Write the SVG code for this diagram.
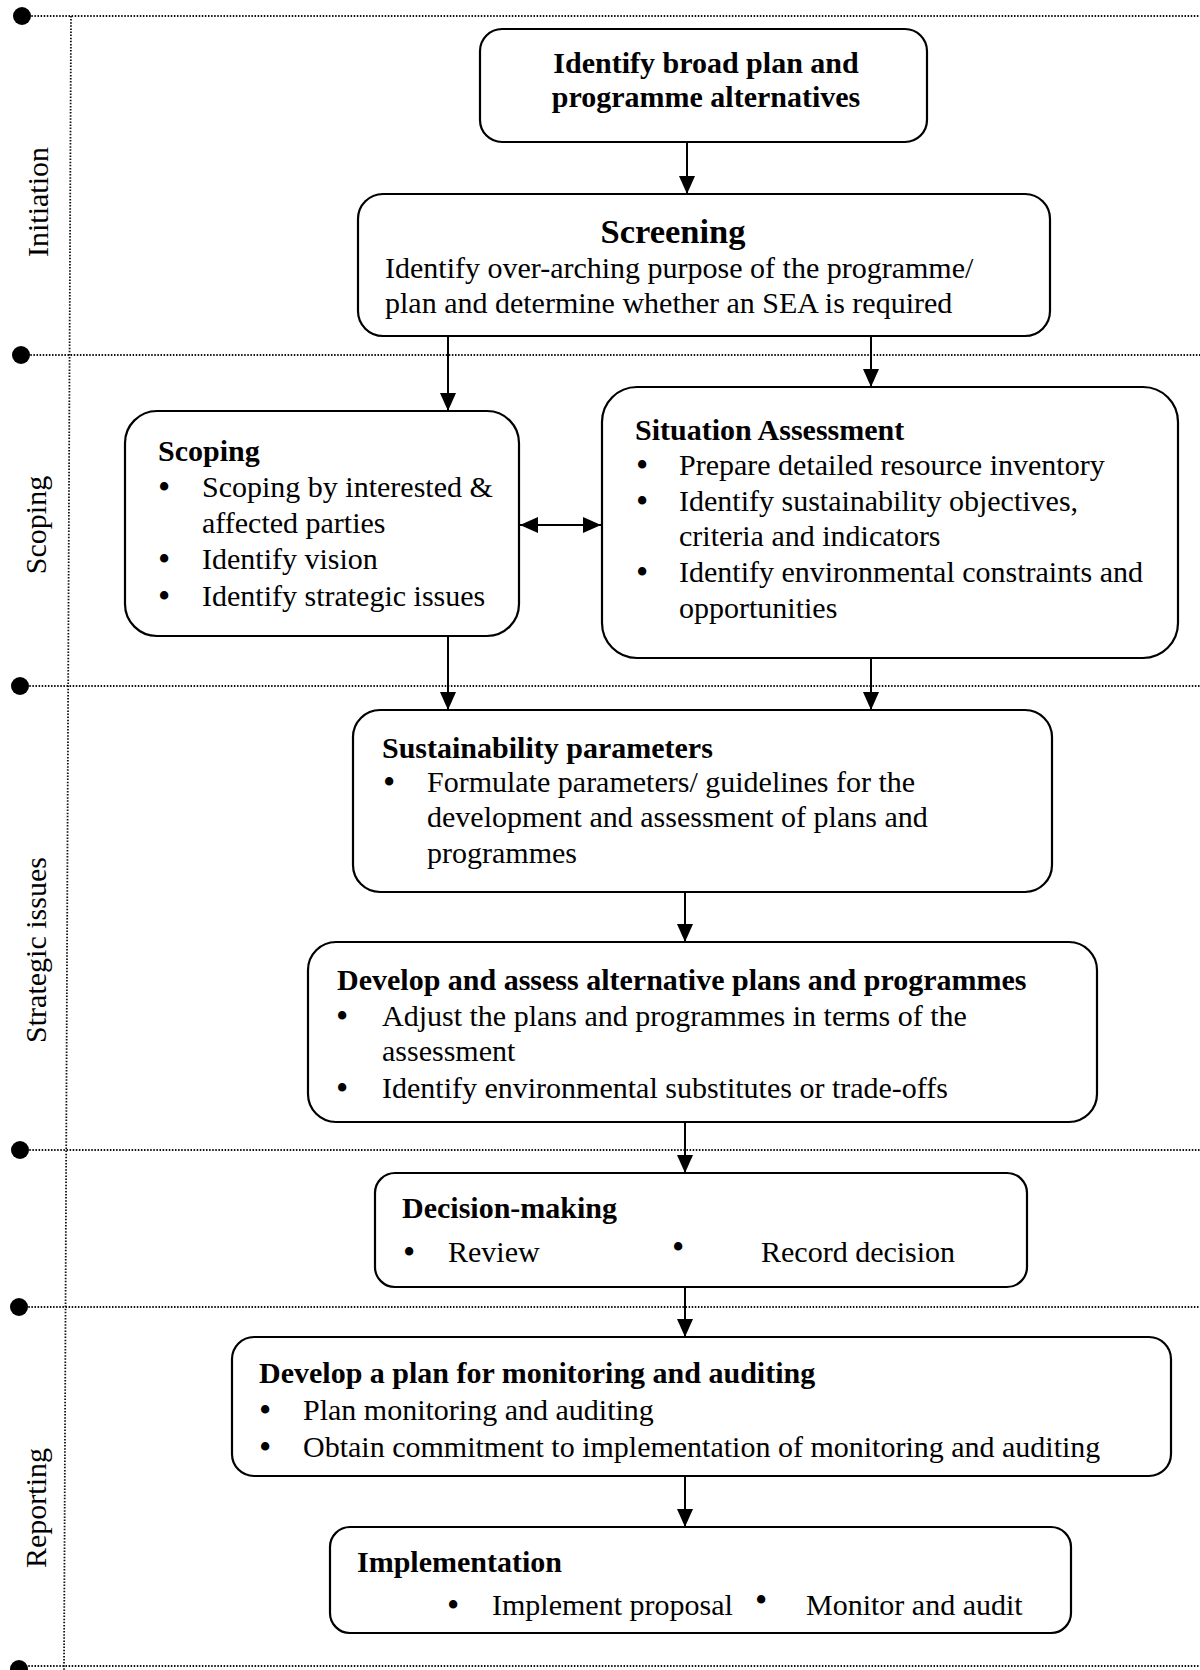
<svg xmlns="http://www.w3.org/2000/svg" width="1200" height="1670" viewBox="0 0 1200 1670">
  <defs>
    <marker id="arrow" markerUnits="userSpaceOnUse" markerWidth="20" markerHeight="18" refX="18" refY="8" orient="auto">
      <path d="M0,0 L18,8 L0,16 Z" fill="#000"/>
    </marker>
    <marker id="arrowStart" markerUnits="userSpaceOnUse" markerWidth="20" markerHeight="18" refX="0" refY="8" orient="auto">
      <path d="M18,0 L0,8 L18,16 Z" fill="#000"/>
    </marker>
  </defs>
  <style>
    .guide { stroke: #111; stroke-width: 1.8; stroke-dasharray: 1.5 1.6; fill: none; }
    .dot { fill: #000; }
    .box { fill: #fff; stroke: #000; stroke-width: 2.2; }
    .conn { stroke: #000; stroke-width: 2; fill: none; marker-end: url(#arrow); }
    .both { stroke: #000; stroke-width: 2; fill: none; marker-end: url(#arrow); marker-start: url(#arrowStart); }
    text { font-family: "Liberation Serif", "Times New Roman", serif; font-size: 30px; fill: #000; }
    .b { font-weight: bold; }
    .big { font-size: 34.5px; }
    .bul { font-size: 35px; }
    .phase { font-size: 30px; text-anchor: middle; }
  </style>

  <rect width="1200" height="1670" fill="#fff"/>

  <!-- phase guides -->
  <g id="phase-guides">
    <line class="guide" x1="71" y1="16" x2="64" y2="1670"/>
    <line class="guide" x1="22" y1="16" x2="1200" y2="16"/>
    <line class="guide" x1="21" y1="355" x2="1200" y2="355"/>
    <line class="guide" x1="20" y1="686" x2="1200" y2="686"/>
    <line class="guide" x1="20" y1="1150" x2="1200" y2="1150"/>
    <line class="guide" x1="19" y1="1307" x2="1200" y2="1307"/>
    <line class="guide" x1="19" y1="1666" x2="1200" y2="1666"/>
    <circle class="dot" cx="22" cy="16" r="9"/>
    <circle class="dot" cx="21" cy="355" r="9"/>
    <circle class="dot" cx="20" cy="686" r="9"/>
    <circle class="dot" cx="20" cy="1150" r="9"/>
    <circle class="dot" cx="19" cy="1307" r="9"/>
    <circle class="dot" cx="19" cy="1669" r="9"/>
  </g>

  <!-- phase labels -->
  <g id="phase-labels">
    <text class="phase" transform="translate(48,202) rotate(-90)">Initiation</text>
    <text class="phase" transform="translate(46,525) rotate(-90)">Scoping</text>
    <text class="phase" transform="translate(46,950) rotate(-90)">Strategic issues</text>
    <text class="phase" transform="translate(46,1508) rotate(-90)">Reporting</text>
  </g>

  <!-- connectors -->
  <g id="connectors">
    <line class="conn" x1="687" y1="142" x2="687" y2="194"/>
    <line class="conn" x1="448" y1="336" x2="448" y2="411"/>
    <line class="conn" x1="871" y1="336" x2="871" y2="387"/>
    <line class="both" x1="520" y1="525" x2="601" y2="525"/>
    <line class="conn" x1="448" y1="636" x2="448" y2="710"/>
    <line class="conn" x1="871" y1="658" x2="871" y2="710"/>
    <line class="conn" x1="685" y1="892" x2="685" y2="942"/>
    <line class="conn" x1="685" y1="1122" x2="685" y2="1173"/>
    <line class="conn" x1="685" y1="1287" x2="685" y2="1337"/>
    <line class="conn" x1="685" y1="1476" x2="685" y2="1527"/>
  </g>

  <g id="identify-alternatives">
    <rect class="box" x="480" y="29" width="447" height="113" rx="22"/>
    <text class="b" x="706" y="73" text-anchor="middle">Identify broad plan and</text>
    <text class="b" x="706" y="107" text-anchor="middle">programme alternatives</text>
  </g>

  <g id="screening">
    <rect class="box" x="358" y="194" width="692" height="142" rx="25"/>
    <text class="b big" x="673" y="243" text-anchor="middle">Screening</text>
    <text x="385" y="278">Identify over-arching purpose of the programme/</text>
    <text x="385" y="313">plan and determine whether an SEA is required</text>
  </g>

  <g id="scoping">
    <rect class="box" x="125" y="411" width="394" height="225" rx="32"/>
    <text class="b" x="158" y="461">Scoping</text>
    <text class="bul" x="158" y="499">•</text><text x="202" y="497">Scoping by interested &amp;</text>
    <text x="202" y="533">affected parties</text>
    <text class="bul" x="158" y="571">•</text><text x="202" y="569">Identify vision</text>
    <text class="bul" x="158" y="608">•</text><text x="202" y="606">Identify strategic issues</text>
  </g>

  <g id="situation-assessment">
    <rect class="box" x="602" y="387" width="576" height="271" rx="35"/>
    <text class="b" x="635" y="440">Situation Assessment</text>
    <text class="bul" x="636" y="477">•</text><text x="679" y="475">Prepare detailed resource inventory</text>
    <text class="bul" x="636" y="513">•</text><text x="679" y="511">Identify sustainability objectives,</text>
    <text x="679" y="546">criteria and indicators</text>
    <text class="bul" x="636" y="584">•</text><text x="679" y="582">Identify environmental constraints and</text>
    <text x="679" y="618">opportunities</text>
  </g>

  <g id="sustainability-parameters">
    <rect class="box" x="353" y="710" width="699" height="182" rx="27"/>
    <text class="b" x="382" y="758">Sustainability parameters</text>
    <text class="bul" x="383" y="794">•</text><text x="427" y="792">Formulate parameters/ guidelines for the</text>
    <text x="427" y="827">development and assessment of plans and</text>
    <text x="427" y="863">programmes</text>
  </g>

  <g id="develop-assess">
    <rect class="box" x="308" y="942" width="789" height="180" rx="28"/>
    <text class="b" x="337" y="990">Develop and assess alternative plans and programmes</text>
    <text class="bul" x="336" y="1028">•</text><text x="382" y="1026">Adjust the plans and programmes in terms of the</text>
    <text x="382" y="1061">assessment</text>
    <text class="bul" x="336" y="1100">•</text><text x="382" y="1098">Identify environmental substitutes or trade-offs</text>
  </g>

  <g id="decision-making">
    <rect class="box" x="375" y="1173" width="652" height="114" rx="20"/>
    <text class="b" x="402" y="1218">Decision-making</text>
    <text class="bul" x="403" y="1264">•</text><text x="448" y="1262">Review</text>
    <text class="bul" x="672" y="1259">•</text><text x="761" y="1262">Record decision</text>
  </g>

  <g id="monitoring-plan">
    <rect class="box" x="232" y="1337" width="939" height="139" rx="22"/>
    <text class="b" x="259" y="1383">Develop a plan for monitoring and auditing</text>
    <text class="bul" x="259" y="1422">•</text><text x="303" y="1420">Plan monitoring and auditing</text>
    <text class="bul" x="259" y="1459">•</text><text x="303" y="1457">Obtain commitment to implementation of monitoring and auditing</text>
  </g>

  <g id="implementation">
    <rect class="box" x="330" y="1527" width="741" height="106" rx="20"/>
    <text class="b" x="357" y="1572">Implementation</text>
    <text class="bul" x="447" y="1617">•</text><text x="492" y="1615">Implement proposal</text>
    <text class="bul" x="755" y="1612">•</text><text x="806" y="1615">Monitor and audit</text>
  </g>
</svg>
